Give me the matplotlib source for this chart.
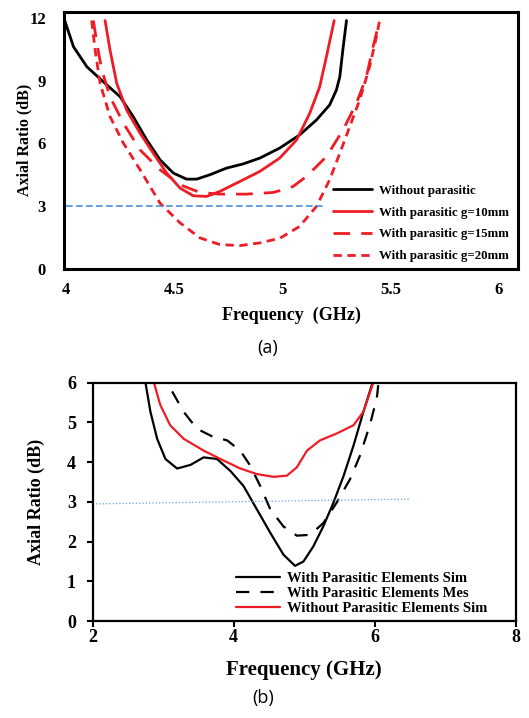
import matplotlib
matplotlib.use("Agg")
import matplotlib.pyplot as plt

# ---------- Panel (a) data ----------
f_wo = [3.99, 4.034, 4.096, 4.172, 4.25, 4.31, 4.373, 4.434, 4.496, 4.557, 4.604, 4.665, 4.742, 4.819,
        4.896, 4.988, 5.08, 5.158, 5.219, 5.25, 5.266, 5.28, 5.297]
ar_wo = [12.0, 10.64, 9.68, 8.96, 8.24, 7.29, 6.17, 5.22, 4.58, 4.29, 4.29, 4.5, 4.82, 5.02,
         5.3, 5.78, 6.41, 7.13, 7.85, 8.56, 9.2, 10.48, 11.9]

f_g10 = [4.18, 4.203, 4.234, 4.28, 4.342, 4.403, 4.465, 4.527, 4.588, 4.65, 4.711, 4.804, 4.896,
         4.988, 5.066, 5.127, 5.173, 5.204, 5.24]
ar_g10 = [11.9, 10.48, 8.88, 7.6, 6.49, 5.53, 4.58, 3.86, 3.49, 3.46, 3.7, 4.18, 4.66,
          5.3, 6.17, 7.45, 8.72, 10.16, 11.9]

f_g15 = [4.126, 4.142, 4.165, 4.203, 4.265, 4.342, 4.434, 4.527, 4.619, 4.711, 4.834, 4.957, 5.004,
         5.05, 5.112, 5.204, 5.281, 5.343, 5.389, 5.42, 5.45]
ar_g15 = [11.9, 10.8, 9.52, 8.24, 6.97, 5.69, 4.74, 4.02, 3.65, 3.57, 3.57, 3.65, 3.78,
          3.94, 4.42, 5.37, 6.65, 7.93, 9.2, 10.64, 11.9]

f_g20 = [4.118, 4.134, 4.157, 4.203, 4.265, 4.342, 4.434, 4.527, 4.619, 4.711, 4.804, 4.896, 4.988,
         5.08, 5.158, 5.219, 5.266, 5.312, 5.358, 5.404, 5.435, 5.45]
ar_g20 = [11.9, 10.48, 8.88, 7.29, 6.01, 4.74, 3.14, 2.19, 1.47, 1.15, 1.1, 1.23, 1.45,
          2.02, 2.98, 4.26, 5.53, 6.81, 8.09, 9.68, 11.1, 11.9]

ref_a_x = [4.0, 5.2]
ref_a_y = [3.0, 3.0]
xticks_a = [4, 4.5, 5, 5.5, 6]
xticklabels_a = ["4", "4.5", "5", "5.5", "6"]
yticks_a = [0, 3, 6, 9, 12]

labels_a = ["Without parasitic", "With parasitic g=10mm",
            "With parasitic g=15mm", "With parasitic g=20mm"]

# ---------- Panel (b) data ----------
f_sim = [2.75, 2.82, 2.915, 3.033, 3.198, 3.387, 3.575, 3.764, 3.953, 4.14, 4.33, 4.52, 4.707, 4.87,
         4.99, 5.13, 5.27, 5.415, 5.56, 5.70, 5.84, 5.97]
ar_sim = [6.0, 5.27, 4.59, 4.08, 3.84, 3.93, 4.12, 4.08, 3.78, 3.4, 2.81, 2.22, 1.67, 1.39,
          1.5, 1.88, 2.38, 2.98, 3.66, 4.42, 5.27, 6.0]

f_mes = [3.128, 3.29, 3.48, 3.717, 3.906, 4.094, 4.236, 4.377, 4.52, 4.707, 4.896, 5.085, 5.273,
         5.46, 5.65, 5.79, 5.93, 6.03, 6.05]
ar_mes = [5.78, 5.27, 4.84, 4.63, 4.55, 4.29, 3.91, 3.4, 2.81, 2.38, 2.15, 2.17, 2.47,
          2.98, 3.57, 4.16, 4.93, 5.61, 5.94]

f_wos = [2.87, 2.96, 3.10, 3.29, 3.575, 3.858, 4.094, 4.33, 4.566, 4.755, 4.896, 5.04, 5.226,
         5.46, 5.70, 5.84, 5.98]
ar_wos = [6.0, 5.44, 4.93, 4.59, 4.29, 4.04, 3.84, 3.70, 3.63, 3.66, 3.87, 4.29, 4.55,
          4.72, 4.93, 5.27, 6.0]

ref_b_x = [2.05, 6.5]
ref_b_y = [2.95, 3.07]
xticks_b = [2, 4, 6, 8]
yticks_b = [0, 1, 2, 3, 4, 5, 6]

labels_b = ["With Parasitic Elements Sim", "With Parasitic Elements Mes",
            "Without Parasitic Elements Sim"]

SERIF = "Liberation Serif"
RED = "#ee1c25"

fig = plt.figure(figsize=(5.29, 7.18), dpi=100)

# ---------------- Panel (a) ----------------
ax1 = fig.add_axes([0.121, 0.626, 0.858, 0.357])
kw = dict(lw=2.0, solid_joinstyle="round", solid_capstyle="round")
ax1.plot(f_wo, ar_wo, color="black", label=labels_a[0], **kw)
ax1.plot(f_g10, ar_g10, color=RED, label=labels_a[1], **kw)
ax1.plot(f_g15, ar_g15, color=RED, dashes=(6, 4), label=labels_a[2], **kw)
ax1.plot(f_g20, ar_g20, color=RED, dashes=(3, 2), label=labels_a[3], **kw)
ax1.plot(ref_a_x, ref_a_y, color="#4a90d9", lw=1.2, dashes=(4, 2))
ax1.set_xlim(3.99, 6.09)
ax1.set_ylim(0, 12.3)
ax1.set_xticks(xticks_a)
ax1.set_xticklabels(xticklabels_a)
ax1.set_yticks(yticks_a)
ax1.tick_params(length=0)
ax1.tick_params(axis="x", pad=10)
ax1.tick_params(axis="y", pad=13)
for lab in ax1.get_xticklabels() + ax1.get_yticklabels():
    lab.set_fontfamily(SERIF)
    lab.set_fontweight("bold")
    lab.set_fontsize(12)
for s in ax1.spines.values():
    s.set_linewidth(2.2)
ax1.set_xlabel("Frequency  (GHz)", fontfamily=SERIF, fontweight="bold", fontsize=13, labelpad=6)
ax1.set_ylabel("Axial Ratio (dB)", fontfamily=SERIF, fontweight="bold", fontsize=11.5, labelpad=-2)
ax1.legend(loc="lower right", bbox_to_anchor=(1.005, -0.02), frameon=False,
           prop={"family": SERIF, "weight": "bold", "size": 9.3},
           handlelength=3.0, handletextpad=0.5, labelspacing=0.75)
fig.text(0.505, 0.515, "(a)", ha="center", va="center", fontfamily="Open Sans", fontsize=13)

# ---------------- Panel (b) ----------------
ax2 = fig.add_axes([0.175, 0.135, 0.800, 0.332])
kw2 = dict(lw=1.6, solid_joinstyle="round", solid_capstyle="round")
ax2.plot(f_sim, ar_sim, color="black", label=labels_b[0], **kw2)
ax2.plot(f_mes, ar_mes, color="black", dashes=(6, 5), label=labels_b[1], **kw2)
ax2.plot(f_wos, ar_wos, color=RED, label=labels_b[2], **kw2)
ax2.plot(ref_b_x, ref_b_y, color="#6a9fd8", lw=0.9, ls=":")
ax2.set_xlim(2, 8)
ax2.set_ylim(0, 6)
ax2.set_xticks(xticks_b)
ax2.set_yticks(yticks_b)
ax2.tick_params(direction="out", length=4, width=1.5)
ax2.tick_params(axis="y", pad=8)
ax2.tick_params(axis="x", pad=2)
for lab in ax2.get_xticklabels() + ax2.get_yticklabels():
    lab.set_fontfamily(SERIF)
    lab.set_fontweight("bold")
    lab.set_fontsize(13)
for s in ax2.spines.values():
    s.set_linewidth(1.6)
ax2.set_xlabel("Frequency (GHz)", fontfamily=SERIF, fontweight="bold", fontsize=15, labelpad=10)
ax2.set_ylabel("Axial Ratio (dB)", fontfamily=SERIF, fontweight="bold", fontsize=13, labelpad=16)
ax2.legend(loc="lower right", bbox_to_anchor=(0.965, -0.028), frameon=False,
           prop={"family": SERIF, "weight": "bold", "size": 10.5},
           handlelength=3.0, handletextpad=0.5, labelspacing=0.1)
fig.text(0.497, 0.015, "(b)", ha="center", va="bottom", fontfamily="Open Sans", fontsize=13)

fig.savefig("out.png", dpi=100)
